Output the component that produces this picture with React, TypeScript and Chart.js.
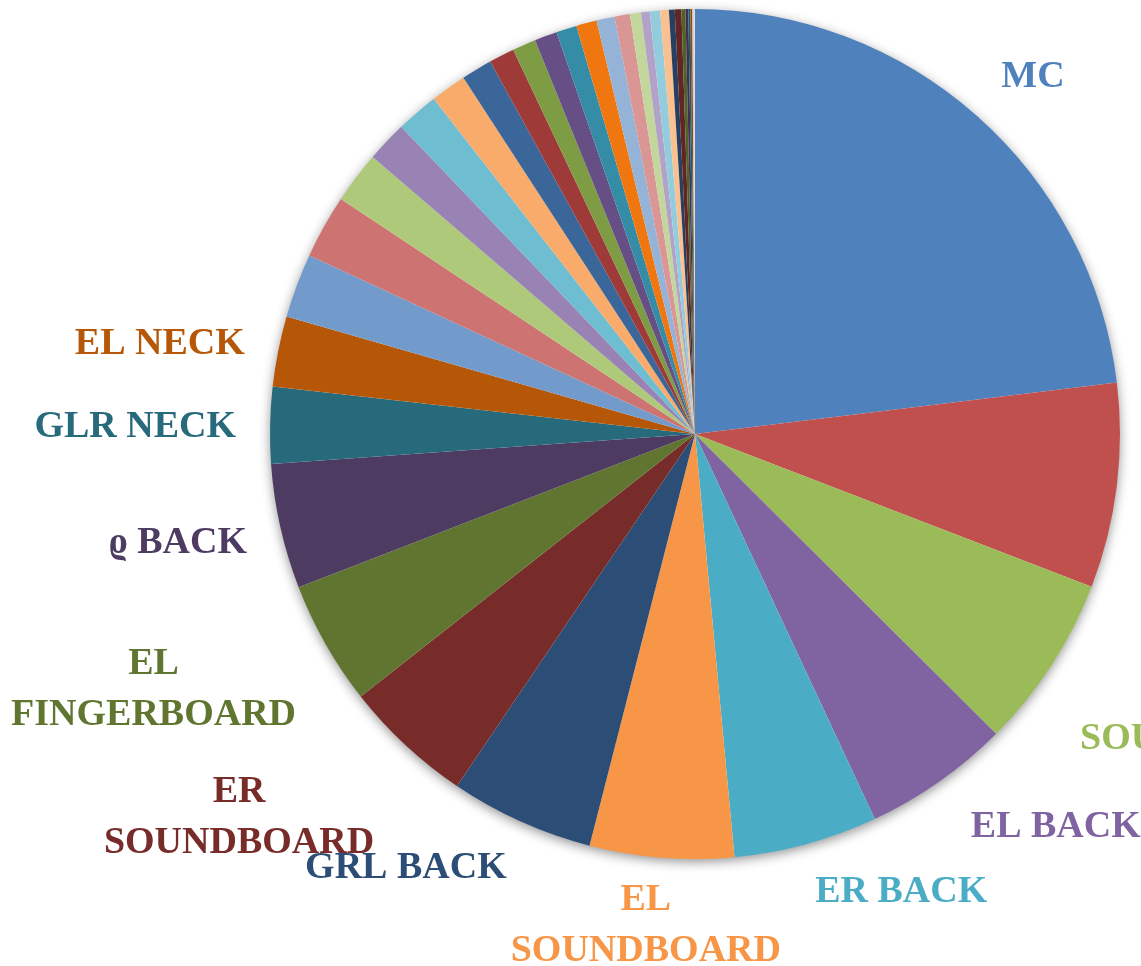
import React, { useEffect, useRef } from "react";
import { Chart, registerables } from "chart.js";

Chart.register(...registerables);

// Slice names (clockwise from 12 o'clock). Empty = no readable label.
const categories: string[] = [
  "MC", "", "SOUNDBOARD", "EL BACK", "ER BACK", "EL SOUNDBOARD", "GRL BACK",
  "ER SOUNDBOARD", "EL FINGERBOARD", "ϱ BACK", "GLR NECK", "EL NECK",
  "", "", "", "", "", "", "", "", "", "", "", "", "", "", "", "", "", "", "",
  "", "", "", "", "", "", "", "", "",
];

// Share of each slice (percent)
const shares: number[] = [
  23.06, 7.78, 6.61, 5.58, 5.47, 5.47, 5.47, 4.94, 4.72, 4.75,
  2.90, 2.68, 2.44, 2.42, 1.97, 1.56, 1.61, 1.36, 1.17, 0.97,
  0.89, 0.86, 0.78, 0.78, 0.69, 0.58, 0.42, 0.33, 0.39, 0.33,
  0.22, 0.25, 0.15, 0.11, 0.08, 0.07, 0.04, 0.03, 0.02, 0.01,
];

const sliceColors: string[] = [
  "#4F81BD", "#C0504D", "#9BBB59", "#8064A2", "#4BACC6", "#F79646",
  "#2C4D75", "#772C2A", "#5F7530", "#4D3B62", "#276A7C", "#B65708",
  "#729ACA", "#CD7371", "#AFC97A", "#9983B5", "#6FBDD1", "#F9AB6B",
  "#3A6699", "#9E3B39", "#7E9C44", "#654F85", "#348CA6", "#F0770F",
  "#95B3D7", "#D99694", "#C3D69B", "#B2A2C7", "#93CDDD", "#FAC090",
  "#254061", "#632523", "#4F6228", "#3F3151", "#215968", "#984807",
  "#B9CDE5", "#E6B9B8", "#D7E4BD", "#CCC1DA",
];

// Label layout style
const FONT_SIZE = 38;
const FONT = `bold ${FONT_SIZE}px "Liberation Serif", "DejaVu Serif", serif`;
const LINE_GAP = 51;
const LABEL_GAP = 34;
const WRAP_WIDTH = 240;
// small collision-avoidance shifts Excel applied to some labels (px)
const labelNudges: Record<string, [number, number]> = {
  SOUNDBOARD: [0, 40],
  "EL BACK": [12, 2],
  "EL SOUNDBOARD": [-13, -7],
  "ER SOUNDBOARD": [-8, 7],
  "EL FINGERBOARD": [0, -12],
  MC: [2, -3],
};

const shadowPlugin = {
  id: "pieShadow",
  beforeDatasetsDraw(chart: any) {
    const meta = chart.getDatasetMeta(0);
    const arc = meta.data[0];
    if (!arc) return;
    const { x, y, outerRadius } = arc.getProps(["x", "y", "outerRadius"], true);
    const ctx = chart.ctx;
    ctx.save();
    ctx.shadowColor = "rgba(0,0,0,0.45)";
    ctx.shadowBlur = 12;
    ctx.shadowOffsetX = 0;
    ctx.shadowOffsetY = 3;
    ctx.fillStyle = "#ffffff";
    ctx.beginPath();
    ctx.arc(x, y, outerRadius - 0.5, 0, Math.PI * 2);
    ctx.fill();
    ctx.restore();
  },
};

const labelPlugin = {
  id: "outsideLabels",
  afterDatasetsDraw(chart: any) {
    const meta = chart.getDatasetMeta(0);
    const ctx = chart.ctx;
    const labels = chart.data.labels as string[];
    const colors = chart.data.datasets[0].backgroundColor as string[];
    const g = (u: number) =>
      Math.sign(u) * Math.min(1, Math.max(0, (Math.abs(u) - 0.17) / 0.09));
    ctx.save();
    ctx.font = FONT;
    ctx.textAlign = "center";
    ctx.textBaseline = "alphabetic";
    meta.data.forEach((arc: any, i: number) => {
      const text = labels[i];
      if (!text) return;
      const { x, y, startAngle, endAngle, outerRadius } = arc.getProps(
        ["x", "y", "startAngle", "endAngle", "outerRadius"],
        true
      );
      const mid = (startAngle + endAngle) / 2;
      const ux = Math.cos(mid);
      const uy = Math.sin(mid);
      const ax = x + (outerRadius + LABEL_GAP) * ux;
      const ay = y + (outerRadius + LABEL_GAP) * uy;
      let lines = [text];
      if (ctx.measureText(text).width > WRAP_WIDTH && text.indexOf(" ") > 0) {
        const k = text.indexOf(" ");
        lines = [text.slice(0, k), text.slice(k + 1)];
      }
      const w = Math.max(...lines.map((l) => ctx.measureText(l).width));
      const capH = FONT_SIZE * 0.66;
      const h = capH + (lines.length - 1) * LINE_GAP;
      const nudge = labelNudges[text] || [0, 0];
      const cx = ax + (g(ux) * w) / 2 + nudge[0];
      const cy = ay + (g(uy) * h) / 2 + nudge[1];
      const top = cy - h / 2;
      ctx.fillStyle = colors[i];
      lines.forEach((l, j) => ctx.fillText(l, cx, top + capH + j * LINE_GAP));
    });
    ctx.restore();
  },
};

export default function App() {
  const ref = useRef<HTMLCanvasElement | null>(null);
  useEffect(() => {
    document.body.style.margin = "0";
    const canvas = ref.current;
    if (!canvas) return;
    const chart = new Chart(canvas, {
      type: "pie",
      data: {
        labels: categories,
        datasets: [
          {
            data: shares,
            backgroundColor: sliceColors,
            borderWidth: 0,
            hoverOffset: 0,
            offset: 0,
          },
        ],
      },
      options: {
        responsive: false,
        animation: false,
        devicePixelRatio: 1,
        layout: { padding: { left: 270, right: 21, top: 9, bottom: 107 } },
        plugins: {
          legend: { display: false },
          tooltip: { enabled: false },
        },
      },
      plugins: [shadowPlugin, labelPlugin],
    });
    return () => chart.destroy();
  }, []);
  return (
    <div style={{ position: "absolute", left: 0, top: 0, width: 1141, height: 966, background: "#fff" }}>
      <canvas ref={ref} width={1141} height={966} style={{ display: "block" }} />
    </div>
  );
}
